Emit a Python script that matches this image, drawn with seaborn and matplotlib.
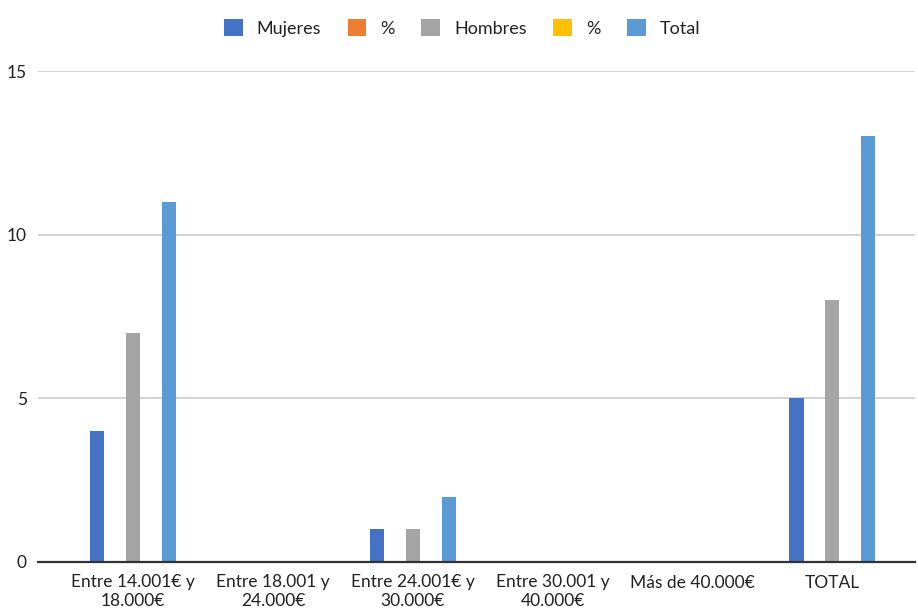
import pandas as pd
import numpy as np
import matplotlib.pyplot as plt
import seaborn as sns
from matplotlib.patches import Patch

# Data
categories = ["Entre 14.001€ y\n18.000€", "Entre 18.001 y\n24.000€", "Entre 24.001€ y\n30.000€",
              "Entre 30.001 y\n40.000€", "Más de 40.000€", "TOTAL"]
mujeres = [4, 0, 1, 0, 0, 5]
pct_mujeres = [0, 0, 0, 0, 0, 0]
hombres = [7, 0, 1, 0, 0, 8]
pct_hombres = [0, 0, 0, 0, 0, 0]
total = [11, 0, 2, 0, 0, 13]

series_keys = ["Mujeres", "% M", "Hombres", "% H", "Total"]
series_labels = ["Mujeres", "%", "Hombres", "%", "Total"]
colors = ["#4472C4", "#ED7D31", "#A5A5A5", "#FFC000", "#5B9BD5"]

data = pd.DataFrame({"Rango": categories, "Mujeres": mujeres, "% M": pct_mujeres,
                     "Hombres": hombres, "% H": pct_hombres, "Total": total})
data = data.melt(id_vars="Rango", var_name="Serie", value_name="Valor")

sns.set_style("white")
plt.rcParams['font.family'] = ['Lato', 'DejaVu Sans']

fig = plt.figure(figsize=(9.18, 6.12), dpi=100)
ax = fig.add_axes([38 / 918, 50 / 612, 877 / 918, 491 / 612])

sns.barplot(data=data, x="Rango", y="Valor", hue="Serie", hue_order=series_keys,
            order=categories, palette=colors, saturation=1, width=0.643, gap=0.22,
            linewidth=0, ax=ax, legend=False)

ax.set_xlim(-0.68, 5.59)
ax.set_ylim(0, 15)
ax.set_yticks([0, 5, 10, 15])
ax.yaxis.grid(True, color="#cccccc", linewidth=1.2)
ax.set_axisbelow(True)
for s in ["top", "right", "left"]:
    ax.spines[s].set_visible(False)
ax.spines["bottom"].set_color("#333333")
ax.spines["bottom"].set_linewidth(1.6)
ax.tick_params(axis="both", length=0, labelsize=12.5, colors="#222222")
ax.tick_params(axis="x", pad=9)
ax.tick_params(axis="y", pad=8)
ax.set_xlabel("")
ax.set_ylabel("")

handles = [Patch(facecolor=c, edgecolor="none") for c in colors]
fig.legend(handles, series_labels, loc="center", bbox_to_anchor=(462 / 918, 1 - 28 / 612),
           ncol=5, frameon=False, fontsize=13, handlelength=1.05, handleheight=1.1,
           handletextpad=0.78, columnspacing=1.45, labelcolor="#222222")

fig.savefig("out.png", dpi=100)
